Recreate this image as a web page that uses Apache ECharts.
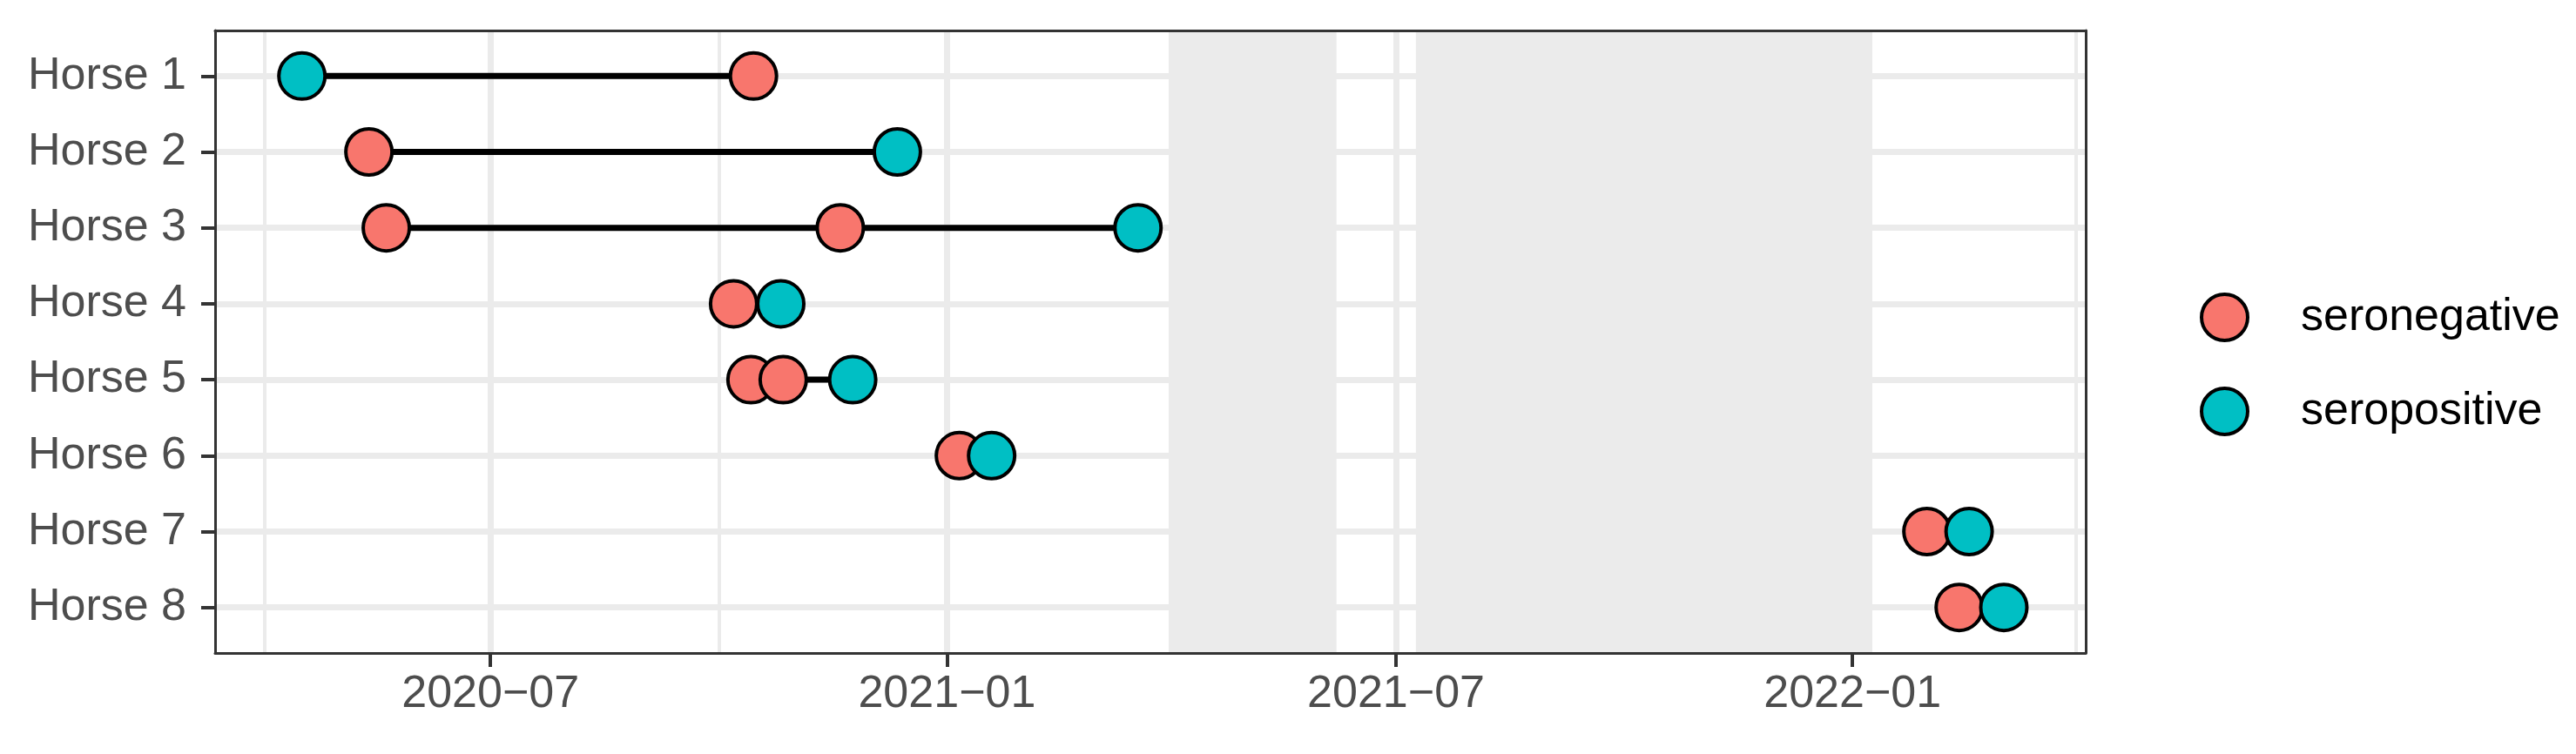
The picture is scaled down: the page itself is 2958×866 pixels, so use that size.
<!DOCTYPE html>
<html>
<head>
<meta charset="utf-8">
<title>Horse serostatus timeline</title>
<script src="https://cdn.jsdelivr.net/npm/echarts@6/dist/echarts.min.js"></script>
<style>
  html, body { margin: 0; padding: 0; background: #fff; }
  #chart { width: 2958px; height: 866px; }
</style>
</head>
<body>
<div id="chart"></div>
<script>
const horses = ['Horse 1', 'Horse 2', 'Horse 3', 'Horse 4', 'Horse 5', 'Horse 6', 'Horse 7', 'Horse 8']

// sampling dates per horse (same order as horses)
const seronegative = [
  ['2020-10-15'],
  ['2020-05-13'],
  ['2020-05-20', '2020-11-19'],
  ['2020-10-07'],
  ['2020-10-14', '2020-10-27'],
  ['2021-01-06'],
  ['2022-01-31'],
  ['2022-02-13']
]
const seropositive = [
  ['2020-04-16'],
  ['2020-12-12'],
  ['2021-03-19'],
  ['2020-10-26'],
  ['2020-11-24'],
  ['2021-01-19'],
  ['2022-02-17'],
  ['2022-03-03']
]

// shaded periods
const bands = [
  ['2021-04-01', '2021-06-07'],
  ['2021-07-09', '2022-01-09']
]

const majorTicks = ['2020-07-01', '2021-01-01', '2021-07-01', '2022-01-01']
const minorTicks = ['2020-04-01', '2020-10-01', '2021-04-01', '2021-10-01', '2022-04-01']
const xRange = ['2020-03-12', '2022-04-05']

const colors = { seronegative: '#F8766D', seropositive: '#00BFC4' }
const font = "'Liberation Sans', Arial, sans-serif"

const toTime = s => {
  const p = s.split('-').map(Number)
  return Date.UTC(p[0], p[1] - 1, p[2])
}

const fmtMonth = v => {
  const d = new Date(v)
  return d.getUTCFullYear() + '\u2212' + String(d.getUTCMonth() + 1).padStart(2, '0')
}

const points = list => {
  const out = []
  list.forEach((dates, i) => dates.forEach(d => out.push([toTime(d), i + 1])))
  return out
}

const lineSeries = horses.map((h, i) => {
  const all = seronegative[i].concat(seropositive[i]).map(toTime)
  return {
    name: h,
    type: 'line',
    z: 3,
    silent: true,
    symbol: 'none',
    lineStyle: { color: '#000', width: 7 },
    data: [[Math.min(...all), i + 1], [Math.max(...all), i + 1]]
  }
})

const pointStyle = color => ({
  color: color,
  borderColor: '#000',
  borderWidth: 4,
  opacity: 1
})

const chart = echarts.init(document.getElementById('chart'))

const option = {
  animation: false,
  backgroundColor: '#fff',
  textStyle: { fontFamily: font },
  grid: { left: 247, top: 35, right: 563, bottom: 116, containLabel: false },
  legend: {
    data: ['seronegative', 'seropositive'],
    orient: 'vertical',
    left: 2521,
    top: 331,
    itemWidth: 53,
    itemHeight: 53,
    itemGap: 51,
    icon: 'circle',
    itemStyle: { borderColor: '#000', borderWidth: 4 },
    textStyle: { fontSize: 52, color: '#000', fontFamily: font, lineHeight: 53, padding: [0, 0, 0, 56] }
  },
  xAxis: [
    {
      type: 'value',
      min: toTime(xRange[0]),
      max: toTime(xRange[1]),
      z: 1,
      axisLine: { show: true, onZero: false, lineStyle: { color: '#333', width: 3 } },
      axisTick: { show: true, length: 16, customValues: majorTicks.map(toTime), lineStyle: { color: '#333', width: 4 } },
      axisLabel: {
        customValues: majorTicks.map(toTime),
        formatter: fmtMonth,
        fontSize: 52,
        color: '#4D4D4D',
        fontFamily: font,
        margin: 22
      },
      splitLine: { show: true, lineStyle: { color: '#EBEBEB', width: 7 } }
    },
    {
      type: 'value',
      position: 'top',
      min: toTime(xRange[0]),
      max: toTime(xRange[1]),
      z: 1,
      axisLine: { show: true, onZero: false, lineStyle: { color: '#333', width: 3 } },
      axisTick: { show: false },
      axisLabel: { show: false },
      splitLine: { show: false }
    }
  ],
  yAxis: [
    {
      type: 'value',
      inverse: true,
      min: 0.4,
      max: 8.6,
      z: 1,
      axisLine: { show: true, onZero: false, lineStyle: { color: '#333', width: 3 } },
      axisTick: { show: true, length: 16, customValues: horses.map((h, i) => i + 1), lineStyle: { color: '#333', width: 4 } },
      axisLabel: {
        customValues: horses.map((h, i) => i + 1),
        formatter: v => horses[Math.round(v) - 1],
        fontSize: 52,
        color: '#4D4D4D',
        fontFamily: font,
        margin: 33
      },
      splitLine: { show: true, lineStyle: { color: '#EBEBEB', width: 7 } }
    },
    {
      type: 'value',
      position: 'right',
      inverse: true,
      min: 0.4,
      max: 8.6,
      z: 1,
      axisLine: { show: true, onZero: false, lineStyle: { color: '#333', width: 3 } },
      axisTick: { show: false },
      axisLabel: { show: false },
      splitLine: { show: false }
    }
  ],
  series: [
    {
      name: 'minor-grid',
      type: 'line',
      z: 0,
      silent: true,
      data: [],
      markLine: {
        silent: true,
        z: 0,
        symbol: ['none', 'none'],
        label: { show: false },
        lineStyle: { color: '#EBEBEB', width: 4, type: 'solid' },
        data: minorTicks.map(t => ({ xAxis: toTime(t) }))
      }
    },
    {
      name: 'bands',
      type: 'line',
      z: 0.5,
      silent: true,
      data: [],
      markArea: {
        silent: true,
        z: 0.5,
        itemStyle: { color: '#EBEBEB', opacity: 1 },
        data: bands.map(b => [{ xAxis: toTime(b[0]) }, { xAxis: toTime(b[1]) }])
      }
    },
    ...lineSeries,
    {
      name: 'seronegative',
      type: 'scatter',
      z: 4,
      symbol: 'circle',
      symbolSize: 53,
      itemStyle: pointStyle(colors.seronegative),
      data: points(seronegative)
    },
    {
      name: 'seropositive',
      type: 'scatter',
      z: 5,
      symbol: 'circle',
      symbolSize: 53,
      itemStyle: pointStyle(colors.seropositive),
      data: points(seropositive)
    }
  ]
}

chart.setOption(option)
</script>
</body>
</html>
